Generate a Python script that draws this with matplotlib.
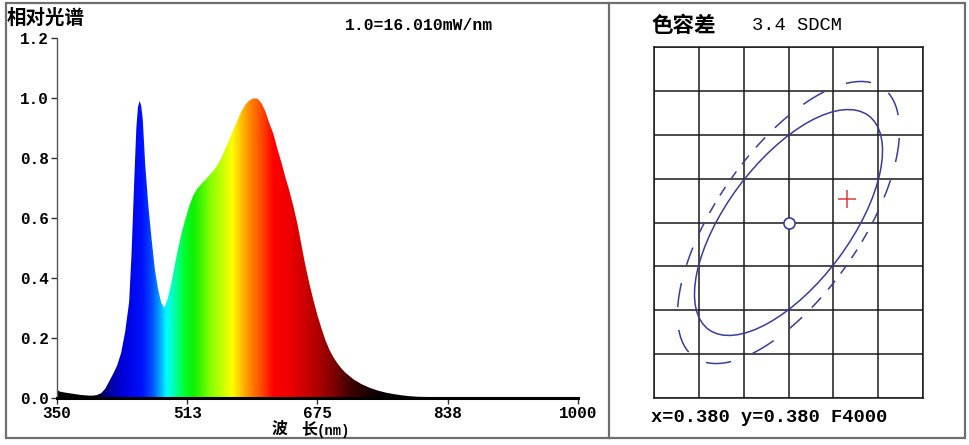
"""
   Relative spectrum + colour tolerance ellipse panel, redrawn with matplotlib.
"""

import numpy as np
import matplotlib

matplotlib.use("Agg")
import matplotlib.pyplot as plt
from matplotlib.colors import LinearSegmentedColormap
from matplotlib.patches import Polygon, Ellipse, Rectangle
from matplotlib.lines import Line2D

# spectrum (wavelength nm, relative power)
wavelength = [350, 353, 356, 360, 365, 370, 375, 380, 385, 390, 395, 400, 405, 410,
              415, 420, 425, 430, 435, 440, 443, 446, 449, 451, 453, 455, 457, 460,
              464, 468, 472, 476, 480, 484, 488, 492, 496, 500, 505, 510, 515, 520,
              525, 530, 535, 540, 545, 550, 555, 560, 565, 570, 575, 580, 585, 590,
              595, 600, 605, 610, 615, 620, 625, 630, 635, 640, 645, 650, 655, 660,
              665, 670, 675, 680, 685, 690, 695, 700, 705, 710, 720, 730, 740, 750,
              760, 770, 780, 790, 800, 820, 840, 880, 1000]
relative = [0.028, 0.022, 0.020, 0.018, 0.016, 0.014, 0.012, 0.010, 0.009, 0.008, 0.008,
            0.010, 0.016, 0.030, 0.055, 0.080, 0.108, 0.150, 0.220, 0.320, 0.480, 0.700,
            0.900, 0.970, 0.990, 0.975, 0.930, 0.780, 0.640, 0.530, 0.430, 0.365, 0.318,
            0.300, 0.330, 0.375, 0.430, 0.485, 0.545, 0.595, 0.640, 0.675, 0.698, 0.713,
            0.727, 0.742, 0.757, 0.775, 0.800, 0.830, 0.862, 0.893, 0.925, 0.955, 0.978,
            0.992, 0.999, 0.998, 0.983, 0.955, 0.915, 0.880, 0.830, 0.785, 0.735, 0.690,
            0.638, 0.580, 0.510, 0.440, 0.380, 0.325, 0.275, 0.232, 0.192, 0.160, 0.135,
            0.115, 0.098, 0.084, 0.062, 0.046, 0.034, 0.025, 0.018, 0.013, 0.009, 0.006,
            0.004, 0.003, 0.002, 0.001, 0.001]
xtickValues = [350, 512.5, 675, 837.5, 1000]
xtickLabels = ["350", "513", "675", "838", "1000"]
ytickValues = [0.0, 0.2, 0.4, 0.6, 0.8, 1.0, 1.2]
scaleText = "1.0=16.010mW/nm"

# colour tolerance panel (grid units, 6 x 8 cells)
targetPoint = (3.0, 4.0)
measuredPoint = (4.31, 4.53)
solidEllipse = (3.02, 1.38, 54)  # semi-major, semi-minor, angle deg
dashedEllipse = (3.72, 1.62, 56)
sdcmText = "3.4 SDCM"
coordText = "x=0.380 y=0.380 F4000"

mono = "Liberation Mono"
cjk = "Noto Sans CJK SC"
W, H = 970, 445

fig = plt.figure(figsize=(9.7, 4.45), dpi=100)


def fx(px):
    return px / W


def fy(py):
    return 1 - py / H


# ---------------- left: spectrum ----------------
ax1 = fig.add_axes([fx(57), fy(398), fx(578) - fx(57), fy(38) - fy(398)])
ax1.set_xlim(350, 1000)
ax1.set_ylim(0, 1.2)

anchors = [(350, "#000000"), (398, "#000000"), (410, "#00008c"), (430, "#0000d8"),
           (455, "#0010ff"), (468, "#0050ff"), (478, "#00a8ff"), (486, "#00ffff"),
           (496, "#00ffa8"), (508, "#00ff30"), (520, "#10f000"), (540, "#80ff00"),
           (556, "#c8ff00"), (568, "#ffff00"), (580, "#ffc000"), (592, "#ff8000"),
           (607, "#ff4000"), (620, "#ff0000"), (640, "#ee0000"), (655, "#d40000"),
           (675, "#b00000"), (695, "#800000"), (715, "#440000"), (738, "#1c0000"),
           (760, "#000000"), (1000, "#000000")]
cmap = LinearSegmentedColormap.from_list(
    "spec", [((w - 350) / 650, c) for w, c in anchors])
grad = np.linspace(350, 1000, 1300).reshape(1, -1)
im = ax1.imshow(grad, cmap=cmap, vmin=350, vmax=1000, extent=[350, 1000, 0, 1.2],
                aspect="auto", origin="lower", interpolation="bilinear")
verts = list(zip(wavelength, relative)) + [(1000, 0), (350, 0)]
outline = Polygon(verts, closed=True, facecolor="none", edgecolor="none")
ax1.add_patch(outline)
im.set_clip_path(outline)

for s in ["top", "right"]:
    ax1.spines[s].set_visible(False)
ax1.spines["left"].set_color("#555555")
ax1.spines["left"].set_linewidth(1)
ax1.spines["bottom"].set_color("black")
ax1.spines["bottom"].set_linewidth(2.2)
ax1.set_xticks(xtickValues)
ax1.set_xticklabels(xtickLabels)
ax1.set_yticks(ytickValues)
ax1.set_yticklabels(["%.1f" % v for v in ytickValues])
ax1.tick_params(axis="both", direction="out", length=4, width=1, color="#333333",
                labelsize=11.5, pad=2)
for lab in ax1.get_xticklabels() + ax1.get_yticklabels():
    lab.set_family(mono)
    lab.set_weight("bold")

fig.text(fx(7), fy(18), "相对光谱", family=cjk, weight="bold", fontsize=14,
         va="center", ha="left")
fig.text(fx(345), fy(25), scaleText, family=mono, weight="bold", fontsize=11.8,
         va="center", ha="left")
fig.text(fx(272), fy(429), "波", family=cjk, weight="bold", fontsize=11.5,
         va="center", ha="left")
fig.text(fx(301), fy(429), "长", family=cjk, weight="bold", fontsize=11.5,
         va="center", ha="left")
fig.text(fx(317), fy(431), "(nm)", family=mono, weight="bold", fontsize=10,
         va="center", ha="left")

# ---------------- right: colour tolerance ----------------
ax2 = fig.add_axes([fx(654), fy(398), fx(923) - fx(654), fy(47) - fy(398)])
ax2.set_xlim(0, 6)
ax2.set_ylim(0, 8)
ax2.set_xticks(range(7))
ax2.set_yticks(range(9))
ax2.tick_params(length=0, labelbottom=False, labelleft=False)
ax2.grid(True, color="#1a1a1a", linewidth=1.1)
for s in ax2.spines.values():
    s.set_color("#1a1a1a")
    s.set_linewidth(1.1)

ellColor = "#3a3c9c"
a, b, ang = solidEllipse
ax2.add_patch(Ellipse(targetPoint, 2 * a, 2 * b, angle=ang, fill=False,
                      edgecolor=ellColor, linewidth=1.1, zorder=3))

# dashed ellipse: dashes at equal polar-angle steps from the centre
a, b, ang = dashedEllipse
th = np.radians(ang)
for start in np.arange(0, 360, 15):
    phi = np.radians(np.linspace(start, start + 8, 20))
    # radius of the ellipse in direction phi (relative to its own axes)
    rel = phi - th
    r = a * b / np.sqrt((b * np.cos(rel)) ** 2 + (a * np.sin(rel)) ** 2)
    ax2.plot(targetPoint[0] + r * np.cos(phi), targetPoint[1] + r * np.sin(phi),
             color=ellColor, linewidth=1.1, zorder=3, solid_capstyle="butt")

ax2.plot(*targetPoint, marker="o", markersize=8, markerfacecolor="white",
         markeredgecolor=ellColor, markeredgewidth=1.2, zorder=4)
ax2.plot(*measuredPoint, marker="+", markersize=13, markeredgewidth=1.1,
         color="#e03c3c", zorder=4)

fig.text(fx(651), fy(25), "色容差", family=cjk, weight="bold", fontsize=15.5,
         va="center", ha="left")
fig.text(fx(752), fy(25), sdcmText, family=mono, fontsize=13.5, va="center",
         ha="left")
fig.text(fx(651), fy(418), coordText, family=mono, weight="bold", fontsize=13.5,
         va="center", ha="left")

# panel frames
frameColor = "#6e6e6e"
fig.add_artist(Rectangle((fx(6), fy(438)), fx(965) - fx(6), fy(3) - fy(438),
                         transform=fig.transFigure, fill=False,
                         edgecolor=frameColor, linewidth=1.6))
fig.add_artist(Line2D([fx(609), fx(609)], [fy(438), fy(3)], transform=fig.transFigure,
                      color=frameColor, linewidth=1.6))

fig.savefig("out.png", dpi=100)
